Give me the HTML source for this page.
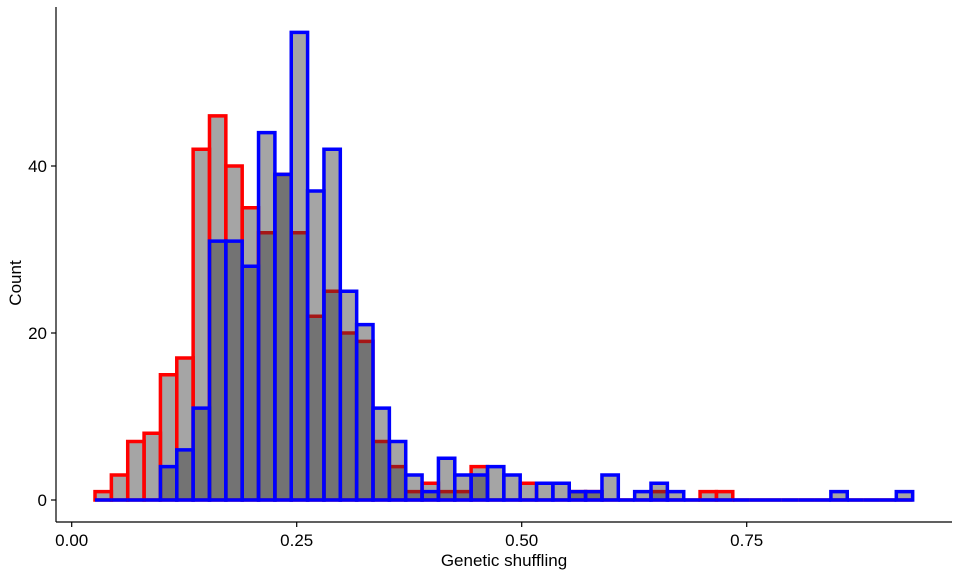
<!DOCTYPE html>
<html><head><meta charset="utf-8"><style>
body{margin:0;background:#fff}
text{font-family:"Liberation Sans",Arial,sans-serif}
</style></head><body>
<svg id="chart" width="960" height="576" xmlns="http://www.w3.org/2000/svg">
<g id="bars"></g>
<g id="axes"></g>
</svg>
<script>
const binStart = 0.0259;
const binWidth = 0.01817;
const redCounts = [1,3,7,8,15,17,42,46,40,35,32,39,32,22,25,20,19,7,4,1,2,1,1,4,0,0,2,0,0,1,1,0,0,0,1,0,0,1,1,0,0,0,0,0,0,0,0,0,0,0];
const blueCounts = [0,0,0,0,4,6,11,31,31,28,44,39,56,37,42,25,21,11,7,3,1,5,3,3,4,3,0,2,2,1,1,3,0,1,2,1,0,0,0,0,0,0,0,0,0,1,0,0,0,1];
const xTicks = [0, 0.25, 0.5, 0.75];
const xTickLabels = ["0.00","0.25","0.50","0.75"];
const yTicks = [0, 20, 40];
const yTickLabels = ["0","20","40"];

const NS = "http://www.w3.org/2000/svg";
const xs = v => 71.7 + v * 900;
const ys = v => 500 - v * 8.35;
const bars = document.getElementById('bars');
const axes = document.getElementById('axes');

function drawSeries(counts, color, name){
  counts.forEach((c, i) => {
    const x0 = xs(binStart + i * binWidth), x1 = xs(binStart + (i + 1) * binWidth);
    const y0 = ys(0), y1 = ys(c);
    const p = document.createElementNS(NS, 'path');
    p.setAttribute('d', `M${x0},${y0}L${x0},${y1}L${x1},${y1}L${x1},${y0}Z`);
    p.setAttribute('fill', 'rgba(52,52,52,0.444)');
    p.setAttribute('stroke', color); p.setAttribute('stroke-width', '3.5');
    p.setAttribute('stroke-linejoin', 'miter');
    
    
    bars.appendChild(p);
  });
}
drawSeries(redCounts, '#ff0000', 'red-series');
drawSeries(blueCounts, '#0000ff', 'blue-series');

function line(x1,y1,x2,y2,name){
  const l = document.createElementNS(NS,'line');
  l.setAttribute('x1',x1);l.setAttribute('y1',y1);l.setAttribute('x2',x2);l.setAttribute('y2',y2);
  l.setAttribute('stroke','#000');l.setAttribute('stroke-width','1.2');
  
  
  axes.appendChild(l);
}
function text(x,y,s,anchor,name,extra){
  const t = document.createElementNS(NS,'text');
  t.setAttribute('x',x);t.setAttribute('y',y);t.setAttribute('text-anchor',anchor);
  t.setAttribute('font-size','17');t.setAttribute('fill','#000');
  if(extra) t.setAttribute('transform',extra);
  t.textContent = s;
  
  
  axes.appendChild(t);
}
line(56,7,56,522,'y-axis-line');
line(56,522,952,522,'x-axis-line');
xTicks.forEach((v,i)=>{
  line(xs(v),522,xs(v),527,'x-tick');
  text(xs(v),546,xTickLabels[i],'middle','x-tick-label');
});
yTicks.forEach((v,i)=>{
  line(51,ys(v),56,ys(v),'y-tick');
  text(47,ys(v)+6,yTickLabels[i],'end','y-tick-label');
});
text(504,566,'Genetic shuffling','middle','x-axis-title');
text(21,283,'Count','middle','y-axis-title','rotate(-90 21 283)');
</script>
</body></html>
